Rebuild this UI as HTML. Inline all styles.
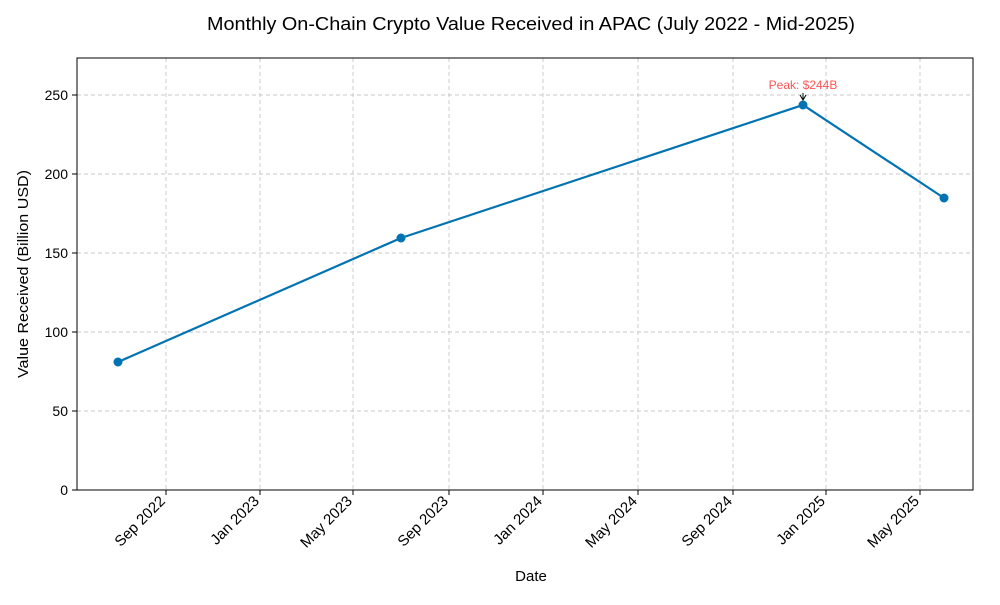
<!DOCTYPE html>
<html><head><meta charset="utf-8"><style>
body{margin:0;background:#fff}
svg text{font-family:"Liberation Sans",sans-serif;fill:#000}
</style></head><body>
<svg width="1000" height="600" xmlns="http://www.w3.org/2000/svg">
<rect width="1000" height="600" fill="#fff"/>
<text x="531" y="30" font-size="18" text-anchor="middle" textLength="648" lengthAdjust="spacingAndGlyphs">Monthly On-Chain Crypto Value Received in APAC (July 2022 - Mid-2025)</text>
<g stroke="#c8c8c8" stroke-dasharray="4,3" stroke-width="0.9">
<line x1="77" x2="973" y1="411" y2="411"/><line x1="77" x2="973" y1="332" y2="332"/>
<line x1="77" x2="973" y1="253" y2="253"/><line x1="77" x2="973" y1="174" y2="174"/>
<line x1="77" x2="973" y1="95" y2="95"/>
<line x1="166" x2="166" y1="58" y2="490"/><line x1="260" x2="260" y1="58" y2="490"/>
<line x1="353" x2="353" y1="58" y2="490"/><line x1="449" x2="449" y1="58" y2="490"/>
<line x1="543" x2="543" y1="58" y2="490"/><line x1="638" x2="638" y1="58" y2="490"/>
<line x1="733" x2="733" y1="58" y2="490"/><line x1="826" x2="826" y1="58" y2="490"/>
<line x1="920" x2="920" y1="58" y2="490"/>
</g>
<rect x="77" y="58" width="896" height="432" fill="none" stroke="#000" stroke-width="1"/>
<g stroke="#000"><line x1="72" x2="77" y1="490" y2="490"/><line x1="72" x2="77" y1="411" y2="411"/><line x1="72" x2="77" y1="332" y2="332"/><line x1="72" x2="77" y1="253" y2="253"/><line x1="72" x2="77" y1="174" y2="174"/><line x1="72" x2="77" y1="95" y2="95"/>
<line x1="166" x2="166" y1="490" y2="495"/><line x1="260" x2="260" y1="490" y2="495"/><line x1="353" x2="353" y1="490" y2="495"/><line x1="449" x2="449" y1="490" y2="495"/><line x1="543" x2="543" y1="490" y2="495"/><line x1="638" x2="638" y1="490" y2="495"/><line x1="733" x2="733" y1="490" y2="495"/><line x1="826" x2="826" y1="490" y2="495"/><line x1="920" x2="920" y1="490" y2="495"/></g>
<g font-size="14" text-anchor="end">
<text x="68" y="495">0</text><text x="68" y="416">50</text><text x="68" y="337">100</text><text x="68" y="258">150</text><text x="68" y="179">200</text><text x="68" y="100">250</text>
</g>
<g font-size="15" text-anchor="end">
<text transform="translate(166,502) rotate(-45)">Sep 2022</text>
<text transform="translate(260,502) rotate(-45)">Jan 2023</text>
<text transform="translate(353,502) rotate(-45)">May 2023</text>
<text transform="translate(449,502) rotate(-45)">Sep 2023</text>
<text transform="translate(543,502) rotate(-45)">Jan 2024</text>
<text transform="translate(638,502) rotate(-45)">May 2024</text>
<text transform="translate(733,502) rotate(-45)">Sep 2024</text>
<text transform="translate(826,502) rotate(-45)">Jan 2025</text>
<text transform="translate(920,502) rotate(-45)">May 2025</text>
</g>
<text x="531" y="581" font-size="15" text-anchor="middle">Date</text>
<text transform="translate(28,274) rotate(-90)" font-size="15" text-anchor="middle" textLength="208" lengthAdjust="spacingAndGlyphs">Value Received (Billion USD)</text>
<polyline points="118,362 401,238 803,105 944,198" fill="none" stroke="#0173b2" stroke-width="2.2"/>
<g fill="#0173b2"><circle cx="118" cy="362" r="4.5"/><circle cx="401" cy="238" r="4.5"/><circle cx="803" cy="105" r="4.5"/><circle cx="944" cy="198" r="4.5"/></g>
<text x="803" y="89" font-size="12" text-anchor="middle" style="fill:#ff5555">Peak: $244B</text>
<path d="M800,95 L803,100 L806,95 M803,100 L803,93" stroke="#000" fill="none" stroke-width="1"/>
</svg>
</body></html>
